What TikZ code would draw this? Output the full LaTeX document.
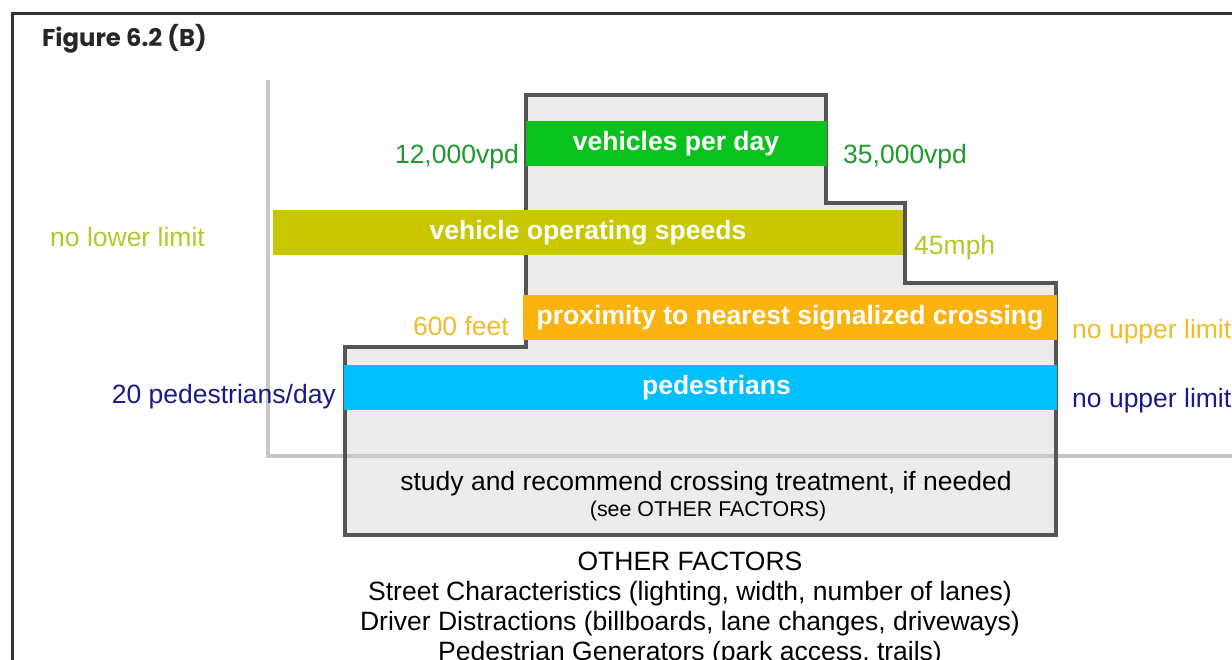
\documentclass[tikz,border=0pt]{standalone}
\usepackage{fontspec}
\setmainfont{Liberation Sans}
\newfontfamily\titlefont{Poppins}
\definecolor{framec}{HTML}{333333}
\definecolor{boxfill}{HTML}{ECECEC}
\definecolor{boxline}{HTML}{555555}
\definecolor{axisc}{HTML}{C8C8C8}
\definecolor{greenbar}{HTML}{0AC21E}
\definecolor{greentxt}{HTML}{1E9A2E}
\definecolor{olivebar}{HTML}{C9C800}
\definecolor{olivetxt}{HTML}{B4C828}
\definecolor{orangebar}{HTML}{FBB30F}
\definecolor{orangetxt}{HTML}{EFBC2A}
\definecolor{bluebar}{HTML}{00BFFF}
\definecolor{navytxt}{HTML}{1A1A8C}
\newcommand\lblfont{\fontsize{26.5}{31}\selectfont}
\newcommand\smlfont{\fontsize{21.4}{25}\selectfont}
\tikzset{
  barnode/.style={inner sep=0pt, minimum height=45pt, text=white, font=\lblfont\bfseries},
  sidelbl/.style={inner sep=0pt, font=\lblfont},
  bodytxt/.style={inner sep=0pt, font=\lblfont, text=black},
}
\begin{document}
\begin{tikzpicture}[x=1pt,y=-1pt]
\useasboundingbox (0,0) rectangle (1232,660);
\clip (0,0) rectangle (1232,660);
\fill[white] (0,0) rectangle (1232,660);
% outer frame
\draw[framec, line width=3pt] (12,14) rectangle (1260,700);
\node[inner sep=0pt, anchor=base west, font=\titlefont\bfseries\fontsize{24.3}{28}\selectfont, text=black!85] (title) at (42,47) {Figure 6.2 (B)};
% stepped region fill
\fill[boxfill] (345,535) -- (345,347) -- (526,347) -- (526,95) -- (826,95) -- (826,203) -- (905,203) -- (905,283) -- (1056,283) -- (1056,535) -- cycle;
% axes
\draw[axisc, line width=4pt] (268,80) -- (268,456) -- (1240,456);
% stepped border
\draw[boxline, line width=4pt, line join=miter] (345,535) -- (345,347) -- (526,347) -- (526,95) -- (826,95) -- (826,203) -- (905,203) -- (905,283) -- (1056,283) -- (1056,535) -- cycle;
% bars
\node[barnode, fill=greenbar, minimum width=301pt] (vpd) at (676,143.5) {vehicles per day};
\node[barnode, fill=olivebar, minimum width=630pt] (speed) at (588,232.5) {vehicle operating speeds};
\node[barnode, fill=orangebar, minimum width=534pt] (prox) at (790,317.5) {proximity to nearest signalized crossing};
\node[barnode, fill=bluebar, minimum width=713pt, text width=713pt, align=center] (ped) at (700.5,387.5) {\hspace*{32pt}pedestrians};
% side labels
\node[sidelbl, text=greentxt, anchor=base east] (vlo) at (519,164) {12,000vpd};
\node[sidelbl, text=greentxt, anchor=base west] (vhi) at (843,164) {35,000vpd};
\node[sidelbl, text=olivetxt, anchor=base west] (slo) at (50,247) {no lower limit};
\node[sidelbl, text=olivetxt, anchor=base west] (shi) at (914,255) {45mph};
\node[sidelbl, text=orangetxt, anchor=base east] (plo) at (509,336) {600 feet};
\node[sidelbl, text=orangetxt, anchor=base west] (phi) at (1072,338) {no upper limit};
\node[sidelbl, text=navytxt, anchor=base east] (dlo) at (336,403) {20 pedestrians/day};
\node[sidelbl, text=navytxt, anchor=base west] (dhi) at (1072,407) {no upper limit};
% study text
\node[bodytxt, anchor=base] (study) at (706,490) {study and recommend crossing treatment, if needed};
\node[bodytxt, font=\smlfont, anchor=base] (see) at (708,516) {(see OTHER FACTORS)};
% other factors
\node[bodytxt, anchor=base] (of) at (690,570) {OTHER FACTORS};
\node[bodytxt, anchor=base] (of1) at (690,600) {Street Characteristics (lighting, width, number of lanes)};
\node[bodytxt, anchor=base] (of2) at (690,630) {Driver Distractions (billboards, lane changes, driveways)};
\node[bodytxt, anchor=base] (of3) at (690,660) {Pedestrian Generators (park access, trails)};
\end{tikzpicture}
\end{document}
